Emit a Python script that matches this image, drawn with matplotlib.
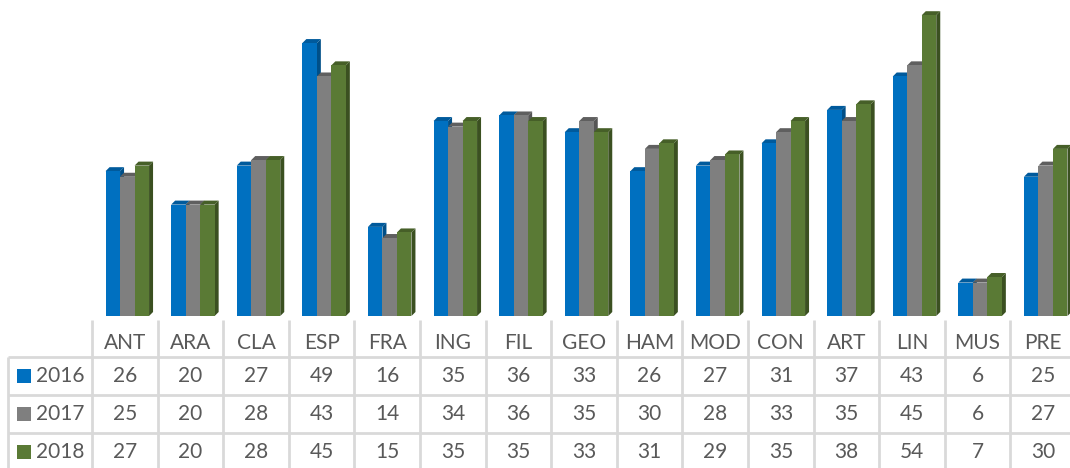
import matplotlib.pyplot as plt
from matplotlib.patches import Polygon, Rectangle

plt.rcParams['font.family'] = ['Lato', 'DejaVu Sans']

categories = ['ANT', 'ARA', 'CLA', 'ESP', 'FRA', 'ING', 'FIL', 'GEO',
              'HAM', 'MOD', 'CON', 'ART', 'LIN', 'MUS', 'PRE']
years = ['2016', '2017', '2018']
v2016 = [26, 20, 27, 49, 16, 35, 36, 33, 26, 27, 31, 37, 43, 6, 25]
v2017 = [25, 20, 28, 43, 14, 34, 36, 35, 30, 28, 33, 35, 45, 6, 27]
v2018 = [27, 20, 28, 45, 15, 35, 35, 33, 31, 29, 35, 38, 54, 7, 30]
series = [v2016, v2017, v2018]

front = ['#0070C0', '#7F7F7F', '#5A7A35']
top_c = ['#005A9C', '#5F5F5F', '#465F28']
side_c = ['#004F88', '#555555', '#3B5021']

W, H = 1070, 468
fig = plt.figure(figsize=(W / 100, H / 100), dpi=100)

# bar area: column width ~65.6 px starting at x=92, baseline at y=316
col_w = 65.6
x0 = 92
ncat = len(categories)
ppu = 5.57  # pixels per unit
ymax = 316 / ppu
ax = fig.add_axes([x0 / W, (H - 316) / H, ncat * col_w / W, 316 / H])
ax.set_xlim(-0.5, ncat - 0.5)
ax.set_ylim(0, ymax)
ax.axis('off')

bw = 14.5 / col_w
dx = 4 / col_w
dy = 4 / ppu
shift = 2.5 / col_w

for i in range(ncat):
    left0 = i - 1.5 * bw + shift
    for s in range(3):
        h = series[s][i]
        xl = left0 + s * bw
        xr = xl + bw
        # right side face
        ax.add_patch(Polygon([(xr, 0), (xr + dx, dy), (xr + dx, h + dy), (xr, h)],
                             closed=True, facecolor=side_c[s], edgecolor='none',
                             zorder=2 + s))
        # top face
        ax.add_patch(Polygon([(xl, h), (xl + dx, h + dy), (xr + dx, h + dy), (xr, h)],
                             closed=True, facecolor=top_c[s], edgecolor='none',
                             zorder=2 + s))
        # front face
        ax.add_patch(Rectangle((xl, 0), bw, h, facecolor=front[s],
                               edgecolor='none', zorder=2 + s))

# data table in pixel coordinates
tb = fig.add_axes([0, 0, 1, 1])
tb.set_xlim(0, W)
tb.set_ylim(H, 0)
tb.axis('off')
grid = '#D9D9D9'
rows_y = [357, 395, 433]
for k in range(ncat + 1):
    xv = x0 + k * col_w
    tb.plot([xv, xv], [320, H + 5], color=grid, lw=2, solid_capstyle='butt')
tb.plot([8, 8], [357, H + 5], color=grid, lw=2, solid_capstyle='butt')
for yr in rows_y:
    tb.plot([8, W + 10], [yr, yr], color=grid, lw=2, solid_capstyle='butt')

txt = '#595959'
for k, c in enumerate(categories):
    tb.text(x0 + (k + 0.5) * col_w, 343, c, ha='center', va='center',
            fontsize=15, color=txt)
for r in range(3):
    yc = (rows_y[r] + (rows_y[r + 1] if r < 2 else 471)) / 2
    tb.add_patch(Rectangle((17, yc - 7), 14, 14, facecolor=front[r], edgecolor='none'))
    tb.text(36, yc, years[r], ha='left', va='center', fontsize=15, color=txt)
    for k in range(ncat):
        tb.text(x0 + (k + 0.5) * col_w, yc, str(series[r][k]), ha='center',
                va='center', fontsize=15, color=txt)

fig.savefig('out.png', dpi=100)
